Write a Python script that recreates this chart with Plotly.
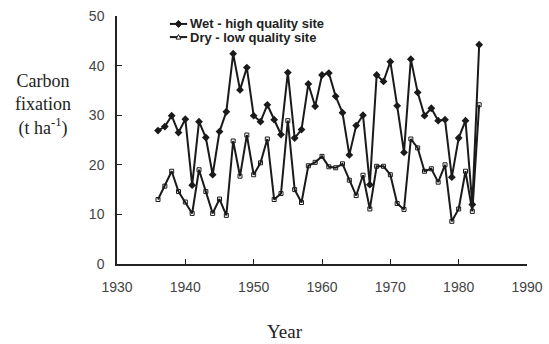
import plotly.graph_objects as go

years = list(range(1936, 1984))
wet = [26.9, 27.7, 29.9, 26.5, 29.2, 15.9, 28.7, 25.5, 18.0, 26.7,
       30.7, 42.4, 35.1, 39.6, 29.9, 28.7, 32.1, 29.1, 26.1, 38.6,
       25.4, 27.1, 36.3, 31.8, 38.1, 38.5, 33.8, 30.5, 22.0, 27.9,
       30.0, 16.0, 38.1, 36.8, 40.8, 31.9, 22.5, 41.3, 34.6, 29.9,
       31.4, 28.9, 29.1, 17.5, 25.4, 28.9, 12.0, 44.2]
dry = [13.0, 15.7, 18.7, 14.6, 12.5, 10.2, 19.0, 14.6, 10.2, 13.1,
       9.8, 24.8, 17.7, 26.0, 18.0, 20.4, 25.2, 13.0, 14.2, 28.9,
       15.0, 12.4, 19.8, 20.5, 21.7, 19.6, 19.4, 20.2, 16.9, 13.8,
       17.9, 11.1, 19.7, 19.7, 18.0, 12.2, 11.0, 25.2, 23.4, 18.7,
       19.2, 16.5, 20.0, 8.6, 11.1, 18.7, 10.6, 32.1]
x_ticks = [1930, 1940, 1950, 1960, 1970, 1980, 1990]
y_ticks = [0, 10, 20, 30, 40, 50]
series_names = ["Wet - high quality site", "Dry - low quality site"]

INK = "#1a1a1a"
fig = go.Figure()
fig.add_trace(go.Scatter(
    x=years, y=wet, mode="lines+markers", name=series_names[0],
    line=dict(color=INK, width=2),
    marker=dict(symbol="diamond", size=6, color=INK),
))
fig.add_trace(go.Scatter(
    x=years, y=dry, mode="lines+markers", name=series_names[1],
    line=dict(color=INK, width=2),
    marker=dict(symbol="square-open", size=4, color=INK, line=dict(width=1)),
))

axis_common = dict(
    showline=True, linecolor="#222", linewidth=1.5, ticks="inside",
    ticklen=5, tickcolor="#222", showgrid=False, zeroline=False,
    tickfont=dict(family="Liberation Sans, Arial", size=14, color="#444"),
)
fig.update_xaxes(range=[1930, 1990], tickvals=x_ticks, ticklabelstandoff=9, **axis_common)
fig.update_yaxes(range=[0, 50], tickvals=y_ticks, ticklabelstandoff=8, **axis_common)

serif = dict(family="Liberation Serif, Times New Roman", size=18, color="#222")
fig.add_annotation(text="Carbon<br>fixation<br>(t ha<sup>-1</sup>)", xref="paper", yref="paper",
                   x=-0.18, y=0.64, xanchor="center", yanchor="middle", showarrow=False,
                   font=serif)
fig.add_annotation(text="Year", xref="paper", yref="paper",
                   x=0.41, y=-0.274, xanchor="center", yanchor="middle", showarrow=False,
                   font=dict(family="Liberation Serif, Times New Roman", size=19, color="#222"))

# manual compact legend
leg_rows = [0.968, 0.915]
lx0, lx1, ltext = 0.129, 0.171, 0.173
for name, ly in zip(series_names, leg_rows):
    fig.add_annotation(text="<b>" + name + "</b>", xref="paper", yref="paper",
                       x=ltext, y=ly, xanchor="left", yanchor="middle", showarrow=False,
                       font=dict(family="Liberation Sans, Arial", size=13, color="#222"))
    fig.add_shape(type="line", xref="paper", yref="paper", x0=lx0, x1=lx1, y0=ly, y1=ly,
                  line=dict(color=INK, width=2))
mx = (lx0 + lx1) / 2
fig.add_shape(type="path", xref="paper", yref="paper", xsizemode="pixel", ysizemode="pixel",
              xanchor=mx, yanchor=leg_rows[0], path="M -3.5 0 L 0 3.5 L 3.5 0 L 0 -3.5 Z",
              fillcolor=INK, line=dict(color=INK, width=1))
fig.add_shape(type="path", xref="paper", yref="paper", xsizemode="pixel", ysizemode="pixel",
              xanchor=mx, yanchor=leg_rows[1], path="M -2.5 -2 L 2.5 -2 L 0 2.5 Z",
              fillcolor="white", line=dict(color=INK, width=1))

fig.update_layout(
    width=549, height=344, autosize=False,
    margin=dict(l=117, r=22, t=16, b=80, autoexpand=False),
    paper_bgcolor="white", plot_bgcolor="white",
    showlegend=False,
)
fig.write_html("out.html",
               config=dict(displayModeBar=False, responsive=False),
               post_script="document.body.style.margin='0';document.body.style.overflow='hidden';")
